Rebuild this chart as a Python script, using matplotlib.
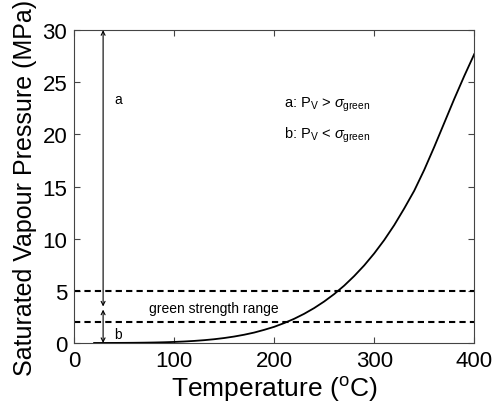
import matplotlib
matplotlib.use('Agg')
import matplotlib.pyplot as plt
import numpy as np

# saturated vapour pressure curve
temp_c = [20, 30, 40, 50, 60, 70, 80, 90, 100, 110, 120, 130, 140, 150,
          160, 170, 180, 190, 200, 210, 220, 230, 240, 250, 260, 270, 280,
          290, 300, 310, 320, 330, 340, 350, 360, 370, 380, 390, 400]
pressure_mpa = [0.0023, 0.0042, 0.0074, 0.0124, 0.0199, 0.0312, 0.0474,
                0.0702, 0.101, 0.143, 0.199, 0.270, 0.361, 0.476, 0.618,
                0.792, 1.00, 1.26, 1.55, 1.91, 2.32, 2.80, 3.35, 3.98, 4.69,
                5.50, 6.42, 7.44, 8.59, 9.87, 11.3, 12.9, 14.6, 16.6, 18.8,
                21.1, 23.4, 25.6, 27.7]

# green strength range limits
green_low = 2.0
green_high = 5.0

xticks = [0, 100, 200, 300, 400]
yticks = [0, 5, 10, 15, 20, 25, 30]

plt.rcParams['font.family'] = ['Liberation Sans', 'DejaVu Sans']
plt.rcParams['mathtext.fontset'] = 'custom'
plt.rcParams['mathtext.rm'] = 'Liberation Sans'
plt.rcParams['mathtext.it'] = 'Liberation Sans:italic'

fig = plt.figure(figsize=(4.94, 4.10), dpi=100)
ax = fig.add_axes([0.150, 0.161, 0.810, 0.763])

ax.plot(temp_c, pressure_mpa, color='black', lw=1.3)
ax.axhline(green_high, color='black', ls='--', lw=1.5, dashes=(3, 2))
ax.axhline(green_low, color='black', ls='--', lw=1.5, dashes=(3, 2))

# range arrows
arrow_kw = dict(arrowstyle='<->', color='black', lw=0.8, mutation_scale=7,
                shrinkA=0, shrinkB=0)
ax.annotate('', xy=(29, 30), xytext=(29, 3.5), arrowprops=arrow_kw)
ax.annotate('', xy=(29, 3.2), xytext=(29, 0), arrowprops=arrow_kw)

ax.text(40, 23.4, 'a', fontsize=10, va='center')
ax.text(40, 0.9, 'b', fontsize=10, va='center')
ax.text(140, 3.4, 'green strength range', fontsize=10, ha='center', va='center')
ax.text(210, 22.9, r'a: P$_\mathrm{V}$ > $\sigma_\mathrm{green}$', fontsize=10.5, va='center')
ax.text(210, 20.0, r'b: P$_\mathrm{V}$ < $\sigma_\mathrm{green}$', fontsize=10.5, va='center')

ax.set_xlim(0, 400)
ax.set_ylim(0, 30)
ax.set_xticks(xticks)
ax.set_yticks(yticks)
ax.tick_params(direction='in', top=True, right=True, labelsize=16, length=4,
               color='#444444', pad=5)
for sp in ax.spines.values():
    sp.set_color('#444444')
    sp.set_linewidth(0.8)

ax.set_xlabel(r'Temperature ($^\mathrm{o}$C)', fontsize=19, labelpad=2)
ax.set_ylabel('Saturated Vapour Pressure (MPa)', fontsize=18, labelpad=4)

fig.savefig('out.png', dpi=100)
